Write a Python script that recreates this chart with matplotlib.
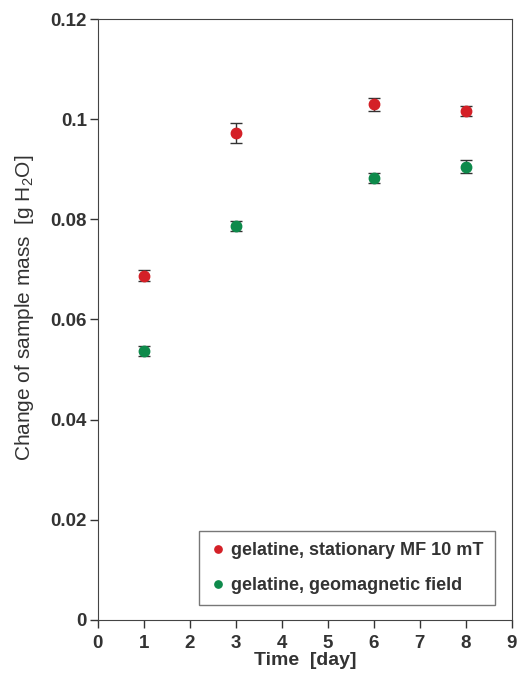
import numpy as np
import matplotlib
matplotlib.use('Agg')
import matplotlib.pyplot as plt

# data
days = [1, 3, 6, 8]
mf_mass = [0.0687, 0.0972, 0.1030, 0.1016]
mf_err = [0.0011, 0.0020, 0.0013, 0.0010]
geo_mass = [0.0537, 0.0787, 0.0882, 0.0905]
geo_err = [0.0010, 0.0010, 0.0010, 0.0013]
labels = ['gelatine, stationary MF 10 mT', 'gelatine, geomagnetic field']

plt.rcParams['font.family'] = ['Liberation Sans', 'DejaVu Sans']
plt.rcParams['mathtext.default'] = 'regular'

fig = plt.figure(figsize=(5.18, 6.79), dpi=100)
ax = fig.add_axes([0.189, 0.087, 0.799, 0.885])

ax.errorbar(days, mf_mass, yerr=mf_err, fmt='o', color='#d42027', ms=7.5,
            ecolor='#333333', elinewidth=1.0, capsize=4, capthick=1.0, label=labels[0])
ax.errorbar(days, geo_mass, yerr=geo_err, fmt='o', color='#0e8a4b', ms=7.5,
            ecolor='#333333', elinewidth=1.0, capsize=4, capthick=1.0, label=labels[1])

ax.set_xlim(0, 9)
ax.set_ylim(0, 0.12)
ax.set_xticks(range(10))
ax.set_yticks([0, 0.02, 0.04, 0.06, 0.08, 0.1, 0.12])
ax.set_yticklabels(['0', '0.02', '0.04', '0.06', '0.08', '0.1', '0.12'])
ax.tick_params(direction='out', length=6, width=1, labelsize=13.5, colors='#333333', pad=2)
ax.tick_params(axis='x', pad=5)
for lab in ax.get_xticklabels() + ax.get_yticklabels():
    lab.set_fontweight('bold')
for sp in ax.spines.values():
    sp.set_color('#444444')

ax.set_xlabel('Time  [day]', fontsize=14, fontweight='bold', color='#333333', labelpad=0)
ax.set_ylabel('Change of sample mass  [g H$_2$O]', fontsize=15, color='#333333', labelpad=6)
ax.yaxis.set_label_coords(-0.15, 0.52)

handles, _ = ax.get_legend_handles_labels()
handles = [h[0] for h in handles]
leg = ax.legend(handles, labels, loc='lower right', bbox_to_anchor=(0.959, 0.025),
                borderaxespad=0, fancybox=False, edgecolor='#555555', markerscale=0.7,
                handletextpad=0.3, handlelength=0.9, labelspacing=1.0, borderpad=0.6,
                prop={'weight': 'bold', 'size': 13})
for t in leg.get_texts():
    t.set_color('#333333')

fig.savefig('out.png', dpi=100)
